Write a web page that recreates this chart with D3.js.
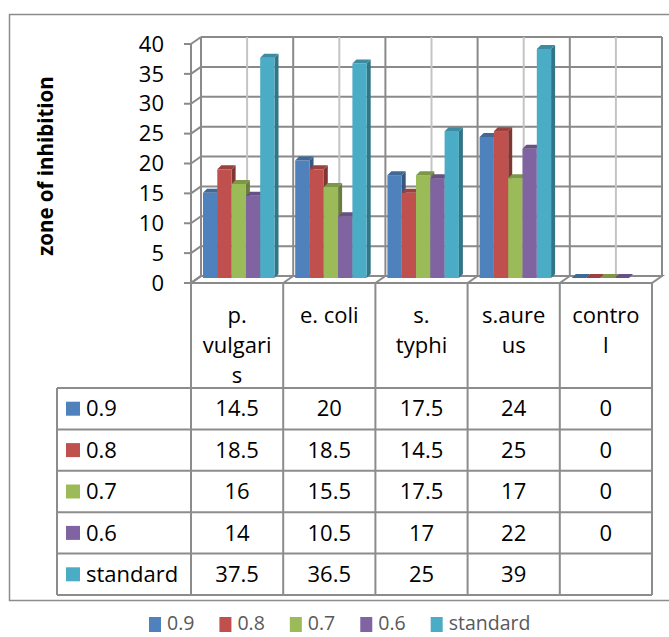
<!DOCTYPE html>
<html><head><meta charset="utf-8">
<script src="https://cdn.jsdelivr.net/npm/d3@7"></script>
<style>
body{margin:0;background:#fff}
svg{display:block}
text{font-family:"Open Sans", Lato, sans-serif}
</style>
</head><body>
<svg id="c" width="669" height="637"></svg>
<script>
// ---- data ----
const categories = ["p. vulgaris","e. coli","s. typhi","s.aureus","control"];
const categoryLines = [["p.","vulgari","s"],["e. coli"],["s.","typhi"],["s.aure","us"],["contro","l"]];
const seriesNames = ["0.9","0.8","0.7","0.6","standard"];
const s09 = [14.5,20,17.5,24,0];
const s08 = [18.5,18.5,14.5,25,0];
const s07 = [16,15.5,17.5,17,0];
const s06 = [14,10.5,17,22,0];
const sStd = [37.5,36.5,25,39,null];
const yTicks = [0,5,10,15,20,25,30,35,40];
const colors = ["#4F81BD","#C0504D","#9BBB59","#8064A2","#4BACC6"];
const seriesValues = [s09,s08,s07,s06,sStd];

// ---- layout ----
const svg = d3.select("#c");
const W0 = 201, W1 = 662, Y0 = 276, Y40 = 37;   // back wall
const DX = -10, DY = 7;                           // depth offset back->front
const x = d3.scaleBand().domain(categories).range([W0, W1]);
const y = d3.scaleLinear().domain([0, 40]).range([Y0, Y40]);
const yBar = d3.scaleLinear().domain([0, 40]).range([278, 43]);
const xs = d3.scaleBand().domain(seriesNames).range([4.5, 76]);
const gridDark = "#8a8a8a", gridLight = "#c4c4c4";

// outer frame
svg.append("rect").attr("x", 9.5).attr("y", 14.5).attr("width", 700).attr("height", 586)
  .attr("fill", "none").attr("stroke", "#8c8c8c").attr("stroke-width", 1.5);

const g = svg.append("g");

// floor
g.append("path")
  .attr("d", `M${W0},${Y0}L${W1},${Y0}L${W1+DX},${Y0+DY}L${W0+DX},${Y0+DY}Z`)
  .attr("fill", "#fff").attr("stroke", gridDark).attr("stroke-width", 2);
categories.forEach(c => {
  g.append("line").attr("x1", x(c)).attr("y1", Y0).attr("x2", x(c)+DX).attr("y2", Y0+DY)
    .attr("stroke", gridDark).attr("stroke-width", 2);
});

// back wall horizontal gridlines and left wall
yTicks.forEach(t => {
  g.append("line").attr("x1", W0).attr("x2", W1).attr("y1", y(t)).attr("y2", y(t))
    .attr("stroke", gridDark).attr("stroke-width", 2);
  g.append("line").attr("x1", W0).attr("y1", y(t)).attr("x2", W0+DX).attr("y2", y(t)+DY)
    .attr("stroke", gridDark).attr("stroke-width", 2);
  g.append("line").attr("x1", W0+DX).attr("y1", y(t)+DY).attr("x2", W0+DX-7).attr("y2", y(t)+DY)
    .attr("stroke", gridDark).attr("stroke-width", 2);
});
// vertical back wall lines
categories.forEach(c => {
  g.append("line").attr("x1", x(c)+x.bandwidth()/2).attr("x2", x(c)+x.bandwidth()/2)
    .attr("y1", y(40)).attr("y2", Y0).attr("stroke", gridLight).attr("stroke-width", 2);
  g.append("line").attr("x1", x(c)).attr("x2", x(c)).attr("y1", y(40)).attr("y2", Y0)
    .attr("stroke", gridDark).attr("stroke-width", 2);
});
g.append("line").attr("x1", W1).attr("x2", W1).attr("y1", y(40)).attr("y2", Y0)
  .attr("stroke", gridDark).attr("stroke-width", 2);
g.append("line").attr("x1", W0+DX).attr("x2", W0+DX).attr("y1", y(40)+DY).attr("y2", Y0+DY)
  .attr("stroke", gridDark).attr("stroke-width", 2);

// tick labels
g.selectAll("text.yt").data(yTicks).join("text").attr("class","yt")
  .attr("x", 164).attr("y", d => y(d)+DY).attr("dy", "0.35em")
  .attr("text-anchor", "end").attr("font-size", 22).attr("fill", "#000").text(d => d);

// y title
svg.append("text").attr("transform", "translate(53,166) rotate(-90)")
  .attr("text-anchor", "middle").attr("font-size", 20.5).attr("font-weight", "bold")
  .attr("fill", "#000").text("zone of inhibition");

// bars
const bz = 0.25, bd = 4;
categories.forEach((c, ci) => {
  seriesNames.forEach((s, si) => {
    const v = seriesValues[si][ci];
    if (v === null || v === undefined) return;
    const col = d3.color(colors[si]);
    const x0 = x(c) + xs(s) + DX*bz, w = xs.bandwidth();
    const yb = yBar(0), yt = yBar(v);
    const bg = g.append("g");
    bg.append("path")
      .attr("d", `M${x0+w},${yt}L${x0+w+bd},${yt-bd}L${x0+w+bd},${yb-bd}L${x0+w},${yb}Z`)
      .attr("fill", col.darker(1.1));
    if (yb - yt > 0)
      bg.append("rect").attr("x", x0).attr("y", yt).attr("width", w).attr("height", yb-yt)
        .attr("fill", colors[si]);
    bg.append("path")
      .attr("d", `M${x0},${yt}L${x0+w},${yt}L${x0+w+bd},${yt-bd}L${x0+bd},${yt-bd}Z`)
      .attr("fill", col.darker(0.6));
  });
});

// ---- data table ----
const tLeft = 57, tRight = W1 + DX, hTop = Y0 + DY, hBot = 388, rowH = 41.4;
const tl = svg.append("g");
const lineStyle = sel => sel.attr("stroke", "#8c8c8c").attr("stroke-width", 2);
categories.forEach(c => {
  lineStyle(tl.append("line").attr("x1", x(c)+DX).attr("x2", x(c)+DX).attr("y1", hTop).attr("y2", hBot + rowH*5));
});
lineStyle(tl.append("line").attr("x1", tRight).attr("x2", tRight).attr("y1", hTop).attr("y2", hBot + rowH*5));
lineStyle(tl.append("line").attr("x1", tLeft).attr("x2", tLeft).attr("y1", hBot).attr("y2", hBot + rowH*5));
for (let r = 0; r <= 5; r++) {
  lineStyle(tl.append("line").attr("x1", tLeft).attr("x2", tRight).attr("y1", hBot + r*rowH).attr("y2", hBot + r*rowH));
}
categories.forEach((c, ci) => {
  categoryLines[ci].forEach((ln, li) => {
    tl.append("text").attr("x", x(c) + DX + x.bandwidth()/2).attr("y", 315 + li*30)
      .attr("dy", "0.35em").attr("text-anchor", "middle").attr("font-size", 22).attr("fill", "#000").text(ln);
  });
});
seriesNames.forEach((s, si) => {
  const cy = hBot + si*rowH + rowH/2;
  tl.append("rect").attr("x", 66).attr("y", cy - 7).attr("width", 14).attr("height", 14).attr("fill", colors[si]);
  tl.append("text").attr("x", 86).attr("y", cy).attr("dy", "0.35em").attr("font-size", 22).attr("fill", "#000").text(s);
  categories.forEach((c, ci) => {
    const v = seriesValues[si][ci];
    if (v === null) return;
    tl.append("text").attr("x", x(c) + DX + x.bandwidth()/2).attr("y", cy).attr("dy", "0.35em")
      .attr("text-anchor", "middle").attr("font-size", 22).attr("fill", "#000").text(v);
  });
});

// ---- legend ----
const lg = svg.append("g");
let lx = 149;
seriesNames.forEach((s, si) => {
  lg.append("rect").attr("x", lx).attr("y", 617).attr("width", 12).attr("height", 15).attr("fill", colors[si]);
  const t = lg.append("text").attr("x", lx + 18).attr("y", 623).attr("dy", "0.35em")
    .attr("font-size", 19.5).attr("fill", "#595959").text(s);
  lx += 18 + t.node().getComputedTextLength() + 25;
});
</script>
</body></html>
